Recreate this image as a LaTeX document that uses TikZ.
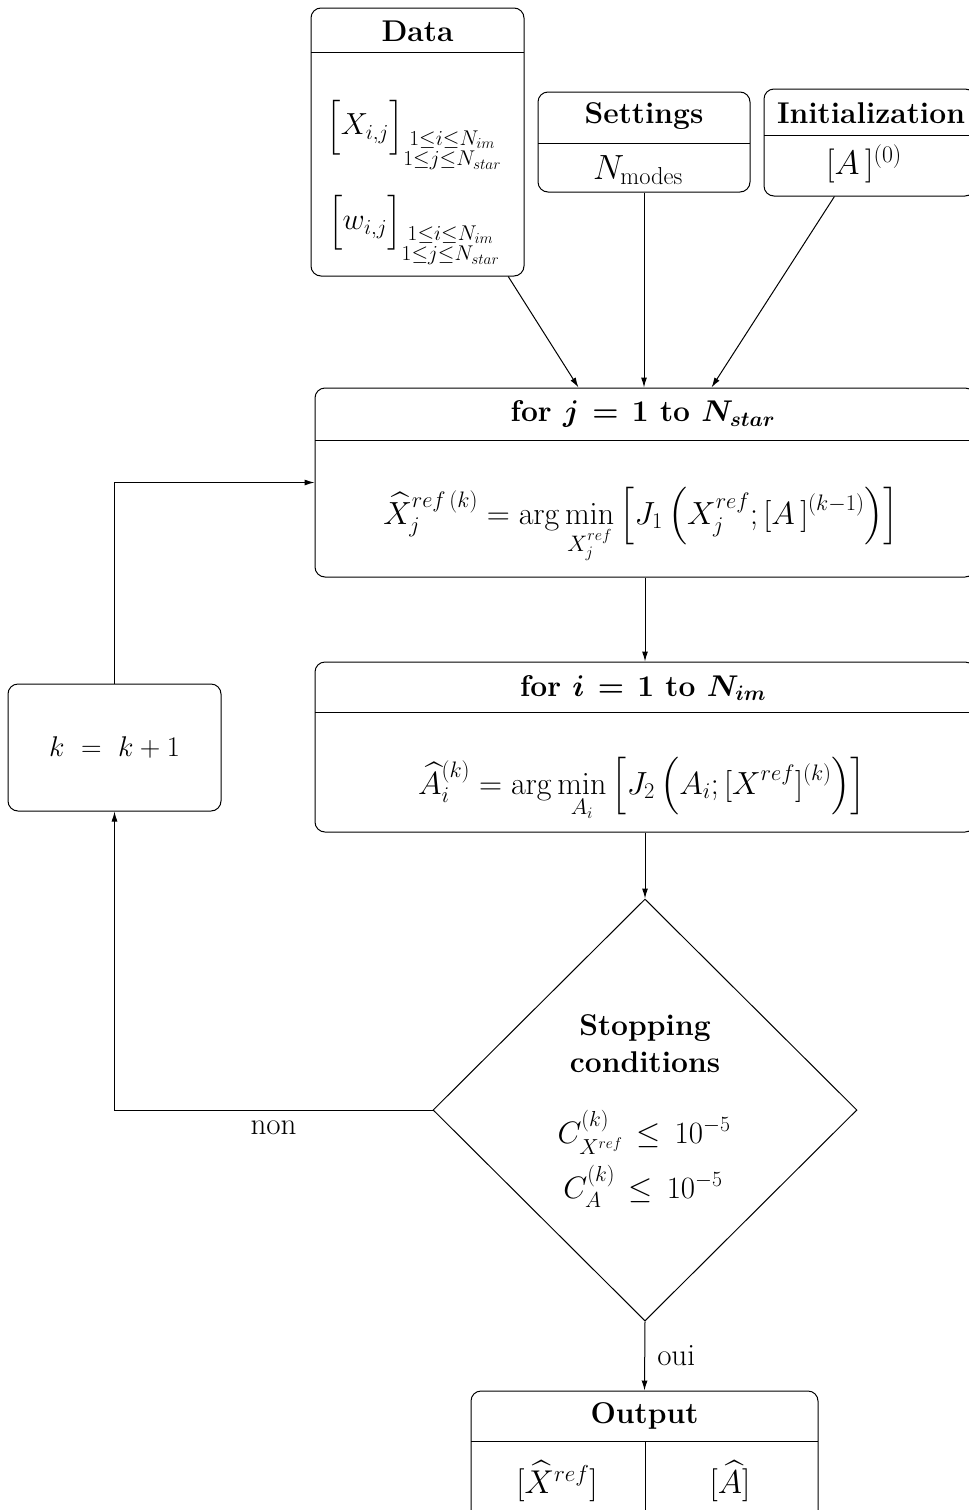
\RequirePackage{fix-cm}
\documentclass[tikz,border=0pt]{standalone}
\usepackage{amsmath,amssymb,bm}
\usetikzlibrary{shapes.geometric,arrows.meta,calc}
\begin{document}
\begin{tikzpicture}[x=1pt,y=-1pt,line width=1pt,
  box/.style={draw,rounded corners=10pt,inner sep=0pt},
  hdr/.style={font=\fontsize{30}{37}\selectfont\bfseries,inner sep=0pt,align=center},
  txt/.style={font=\fontsize{32}{38}\selectfont,inner sep=0pt,align=center},
  lbl/.style={font=\fontsize{31}{37}\selectfont,inner sep=0pt},
  arr/.style={-{Latex[length=10pt,width=6pt]}}]
\useasboundingbox (0,0) rectangle (969,1510);

% Data
\node[box,minimum width=213pt,minimum height=268pt] (data) at (417.5,142) {};
\draw (311,52) -- (524,52);
\node[hdr] (datah) at (417.5,31) {Data};
\node[txt,font=\fontsize{30.5}{36}\selectfont] (dx) at (414,135) {$\Big[X_{i,j}\Big]_{\substack{1\leq i\leq N_{im}\\ 1\leq j\leq N_{star}}}$};
\node[txt,font=\fontsize{30.5}{36}\selectfont] (dw) at (414,230) {$\Big[w_{i,j}\Big]_{\substack{1\leq i\leq N_{im}\\ 1\leq j\leq N_{star}}}$};

% Settings
\node[box,minimum width=212pt,minimum height=100pt] (set) at (644,142) {};
\draw (538,143) -- (750,143);
\node[hdr] (seth) at (644,116) {Settings};
\node[txt,font=\fontsize{35}{40}\selectfont] (setn) at (638,170) {$N_{\mathrm{modes}}$};

% Initialization
\node[box,minimum width=211pt,minimum height=107pt] (init) at (869.5,142.5) {};
\draw (764,135) -- (975,135);
\node[hdr] (inith) at (871,113) {Initialization};
\node[txt,font=\fontsize{34}{40}\selectfont] (inita) at (864,164) {$[A\,]^{(0)}$};

% for j
\node[box,minimum width=660pt,minimum height=189pt] (forj) at (645,482.5) {};
\draw (315,440) -- (975,440);
\node[hdr] (forjh) at (643,414) {for $\bm{j\,=\,1}$ to $\bm{N_{star}}$};
\node[txt,anchor=base] (forjb) at (641,524) {$\displaystyle \widehat{X}_j^{ref\,(k)} = \arg\min_{X_j^{ref}}\left[J_1\left(X_j^{ref};[A\,]^{(k-1)}\right)\right]$};

% for i
\node[box,minimum width=660pt,minimum height=170pt] (fori) at (645,747) {};
\draw (315,712) -- (975,712);
\node[hdr] (forih) at (643,688) {for $\bm{i\,=\,1}$ to $\bm{N_{im}}$};
\node[txt,anchor=base] (forib) at (642,794) {$\displaystyle \widehat{A}_i^{(k)} = \arg\min_{A_i}\left[J_2\left(A_i;[X^{ref}]^{(k)}\right)\right]$};

% k = k+1
\node[box,minimum width=213pt,minimum height=127pt] (kbox) at (114.5,747.5) {};
\node[txt,font=\fontsize{28.5}{34}\selectfont] (kt) at (114.5,747) {$k\ =\ k+1$};

% diamond
\node[draw,diamond,inner sep=0pt,minimum width=424pt,minimum height=422pt] (cond) at (645,1110) {};
\node[hdr] (condh) at (645,1044) {Stopping\\conditions};
\node[txt,font=\fontsize{31}{37}\selectfont,anchor=base] (c1) at (644,1143) {$C^{(k)}_{X^{ref}}\,\leq\,10^{-5}$};
\node[txt,font=\fontsize{31}{37}\selectfont,anchor=base] (c2) at (643,1198) {$C^{(k)}_{A}\,\leq\,10^{-5}$};

% Output
\node[box,minimum width=347pt,minimum height=129pt] (out) at (644.5,1455.5) {};
\draw (471,1441) -- (818,1441);
\draw (645,1441) -- (645,1520);
\node[hdr] (outh) at (644.5,1416) {Output};
\node[txt,font=\fontsize{33}{39}\selectfont,anchor=base] (ox) at (557,1493) {$[\widehat{X}^{ref}]$};
\node[txt,font=\fontsize{33}{39}\selectfont,anchor=base] (oa) at (730,1493) {$[\widehat{A}]$};

% connectors
\draw[arr] (data.-56) -- (forj.125);
\draw[arr] (set.south) -- (set.south |- forj.north);
\draw[arr] (init.-123) -- (forj.55.5);
\draw[arr] (forj.south) -- (fori.north);
\draw[arr] (fori.south) -- (cond.north);
\draw[arr] (cond.west) -- (kbox.south |- cond.west) node[lbl,midway,below=10pt] {non} -- (kbox.south);
\draw[arr] (kbox.north) |- (forj.west);
\draw[arr] (cond.south) -- (out.north) node[lbl,midway,right=12pt] {oui};
\end{tikzpicture}
\end{document}
